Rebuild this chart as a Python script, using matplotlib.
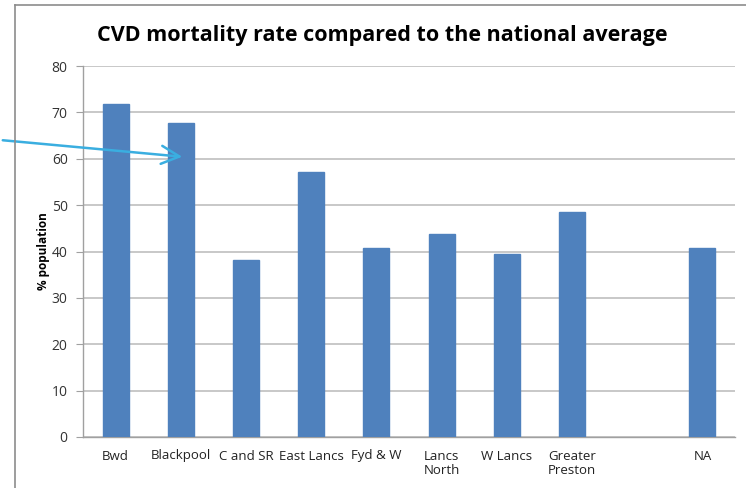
import matplotlib
matplotlib.use("Agg")
import matplotlib.pyplot as plt
from matplotlib.lines import Line2D
from matplotlib.patches import FancyArrowPatch
import numpy as np

categories = ["Bwd", "Blackpool", "C and SR", "East Lancs", "Fyd & W",
              "Lancs\nNorth", "W Lancs", "Greater\nPreston", "", "NA"]
values = [71.7, 67.8, 38.2, 57.2, 40.7, 43.8, 39.5, 48.6, np.nan, 40.7]
yticks = [0, 10, 20, 30, 40, 50, 60, 70, 80]

W, H = 746, 488
fig = plt.figure(figsize=(W / 100, H / 100), dpi=100)

def fx(px):
    return px / W

def fy(py):
    return 1 - py / H

ax = fig.add_axes([fx(83), fy(437), fx(735) - fx(83), fy(66) - fy(437)])
x = np.arange(len(categories))
mask = ~np.isnan(np.array(values, dtype=float))
ax.bar(x[mask], np.array(values, dtype=float)[mask], width=0.4,
       color="#4F81BD", edgecolor="#4F81BD", zorder=3)
ax.set_xlim(-0.5, len(categories) - 0.5)
ax.set_ylim(0, 80)
ax.set_yticks(yticks)
ax.set_yticklabels([str(t) for t in yticks], fontsize=10, family="Open Sans", color="#333333")
ax.set_xticks(x)
ax.set_xticklabels(categories, fontsize=9.5, family="Open Sans", color="#222222")
ax.tick_params(axis="x", length=0, pad=9)
ax.tick_params(axis="y", length=5, color="#A0A0A0", pad=6)
ax.grid(axis="y", color="#BFBFBF", linewidth=1.2, zorder=0)
for s in ["top", "right"]:
    ax.spines[s].set_visible(False)
for s in ["left", "bottom"]:
    ax.spines[s].set_color("#A0A0A0")
    ax.spines[s].set_linewidth(1.0)
ax.set_ylabel("% population", fontsize=8.5, fontweight="bold", family="Open Sans", labelpad=1)

fig.text(fx(382), fy(36), "CVD mortality rate compared to the national average",
         ha="center", va="center", fontsize=15.5, fontweight="bold", family="Open Sans")

# outer frame lines
fig.add_artist(Line2D([fx(15), fx(15)], [fy(5), fy(488)], color="#8C8C8C", linewidth=1.2,
                      transform=fig.transFigure))
fig.add_artist(Line2D([fx(15), fx(746)], [fy(5), fy(5)], color="#8C8C8C", linewidth=1.2,
                      transform=fig.transFigure))

# arrow
arr = FancyArrowPatch((fx(0), fy(140)), (fx(185), fy(157)), transform=fig.transFigure,
                      arrowstyle="->,head_length=13,head_width=6.5", color="#3AAEE0",
                      linewidth=1.8, mutation_scale=1)
fig.add_artist(arr)

fig.savefig("out.png", dpi=100)
